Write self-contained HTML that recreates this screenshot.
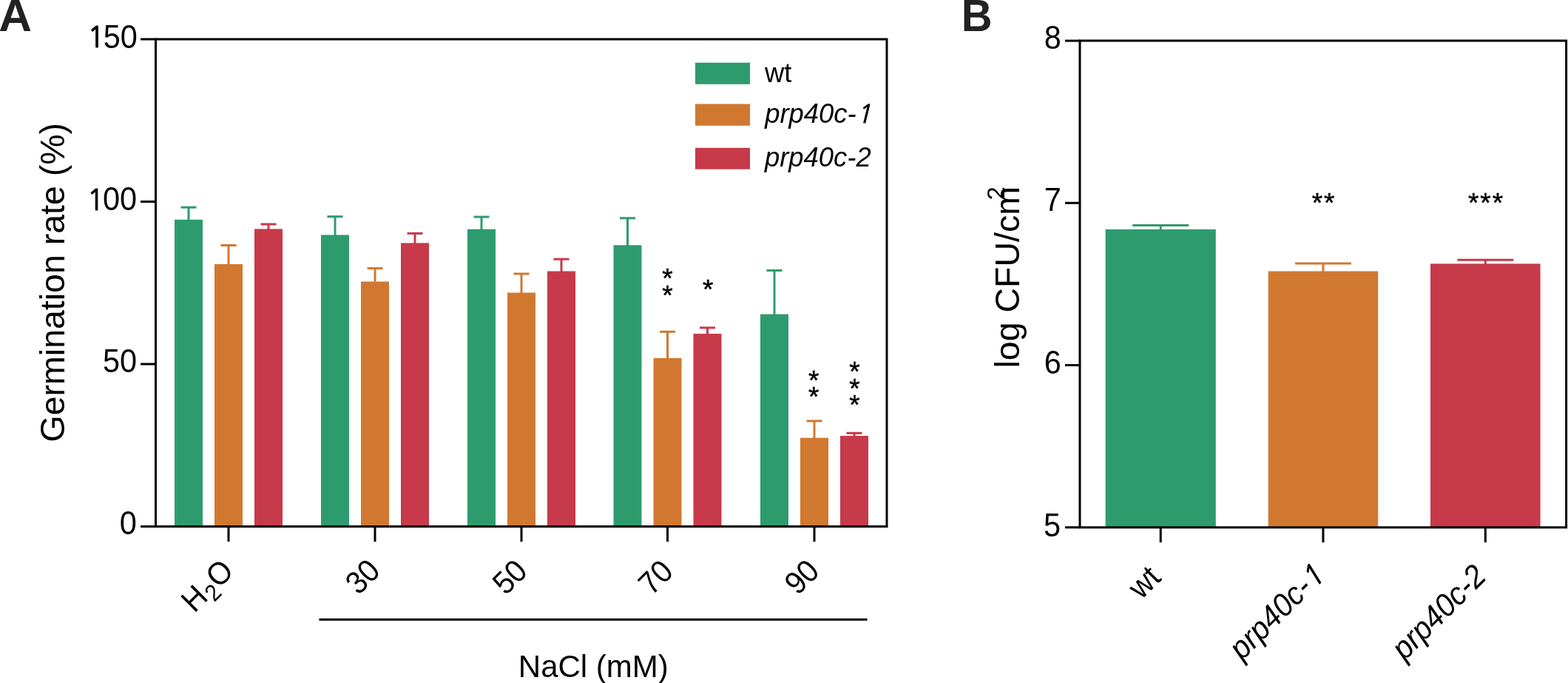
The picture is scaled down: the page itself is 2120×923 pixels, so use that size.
<!DOCTYPE html>
<html><head><meta charset="utf-8"><title>Figure</title>
<style>html,body{margin:0;padding:0;background:#fff;overflow:hidden;}svg{display:block;}</style></head>
<body><svg width="2120" height="923" viewBox="0 0 2120 923" font-family="'Liberation Sans', Arial, Helvetica, sans-serif">
<rect width="2120" height="923" fill="#fff"/>
<rect x="236" y="296.8" width="38.00" height="414.70" fill="#2E9B6E"/>
<line x1="255" y1="280.2" x2="255" y2="297.8" stroke="#2E9B6E" stroke-width="3"/>
<line x1="244.5" y1="280.2" x2="265.5" y2="280.2" stroke="#2E9B6E" stroke-width="3"/>
<rect x="290" y="356.9" width="38.00" height="354.60" fill="#D17830"/>
<line x1="309" y1="331.5" x2="309" y2="357.9" stroke="#D17830" stroke-width="3"/>
<line x1="298.5" y1="331.5" x2="319.5" y2="331.5" stroke="#D17830" stroke-width="3"/>
<rect x="344" y="309.4" width="38.00" height="402.10" fill="#C63A4A"/>
<line x1="363" y1="303.0" x2="363" y2="310.4" stroke="#C63A4A" stroke-width="3"/>
<line x1="352.5" y1="303.0" x2="373.5" y2="303.0" stroke="#C63A4A" stroke-width="3"/>
<rect x="434" y="317.5" width="38.00" height="394.00" fill="#2E9B6E"/>
<line x1="453" y1="292.7" x2="453" y2="318.5" stroke="#2E9B6E" stroke-width="3"/>
<line x1="442.5" y1="292.7" x2="463.5" y2="292.7" stroke="#2E9B6E" stroke-width="3"/>
<rect x="488" y="380.5" width="38.00" height="331.00" fill="#D17830"/>
<line x1="507" y1="362.6" x2="507" y2="381.5" stroke="#D17830" stroke-width="3"/>
<line x1="496.5" y1="362.6" x2="517.5" y2="362.6" stroke="#D17830" stroke-width="3"/>
<rect x="542" y="328.4" width="38.00" height="383.10" fill="#C63A4A"/>
<line x1="561" y1="315.4" x2="561" y2="329.4" stroke="#C63A4A" stroke-width="3"/>
<line x1="550.5" y1="315.4" x2="571.5" y2="315.4" stroke="#C63A4A" stroke-width="3"/>
<rect x="632" y="309.7" width="38.00" height="401.80" fill="#2E9B6E"/>
<line x1="651" y1="293.1" x2="651" y2="310.7" stroke="#2E9B6E" stroke-width="3"/>
<line x1="640.5" y1="293.1" x2="661.5" y2="293.1" stroke="#2E9B6E" stroke-width="3"/>
<rect x="686" y="395.5" width="38.00" height="316.00" fill="#D17830"/>
<line x1="705" y1="370.0" x2="705" y2="396.5" stroke="#D17830" stroke-width="3"/>
<line x1="694.5" y1="370.0" x2="715.5" y2="370.0" stroke="#D17830" stroke-width="3"/>
<rect x="740" y="366.5" width="38.00" height="345.00" fill="#C63A4A"/>
<line x1="759" y1="350.2" x2="759" y2="367.5" stroke="#C63A4A" stroke-width="3"/>
<line x1="748.5" y1="350.2" x2="769.5" y2="350.2" stroke="#C63A4A" stroke-width="3"/>
<rect x="829.5" y="331.3" width="38.00" height="380.20" fill="#2E9B6E"/>
<line x1="848.5" y1="294.8" x2="848.5" y2="332.3" stroke="#2E9B6E" stroke-width="3"/>
<line x1="838.0" y1="294.8" x2="859.0" y2="294.8" stroke="#2E9B6E" stroke-width="3"/>
<rect x="883.5" y="483.9" width="38.00" height="227.60" fill="#D17830"/>
<line x1="902.5" y1="448.3" x2="902.5" y2="484.9" stroke="#D17830" stroke-width="3"/>
<line x1="892.0" y1="448.3" x2="913.0" y2="448.3" stroke="#D17830" stroke-width="3"/>
<rect x="937.5" y="451.0" width="38.00" height="260.50" fill="#C63A4A"/>
<line x1="956.5" y1="442.9" x2="956.5" y2="452.0" stroke="#C63A4A" stroke-width="3"/>
<line x1="946.0" y1="442.9" x2="967.0" y2="442.9" stroke="#C63A4A" stroke-width="3"/>
<rect x="1028" y="424.6" width="38.00" height="286.90" fill="#2E9B6E"/>
<line x1="1047" y1="365.5" x2="1047" y2="425.6" stroke="#2E9B6E" stroke-width="3"/>
<line x1="1036.5" y1="365.5" x2="1057.5" y2="365.5" stroke="#2E9B6E" stroke-width="3"/>
<rect x="1082" y="591.7" width="38.00" height="119.80" fill="#D17830"/>
<line x1="1101" y1="568.9" x2="1101" y2="592.7" stroke="#D17830" stroke-width="3"/>
<line x1="1090.5" y1="568.9" x2="1111.5" y2="568.9" stroke="#D17830" stroke-width="3"/>
<rect x="1136" y="589.0" width="38.00" height="122.50" fill="#C63A4A"/>
<line x1="1155" y1="585.3" x2="1155" y2="590.0" stroke="#C63A4A" stroke-width="3"/>
<line x1="1144.5" y1="585.3" x2="1165.5" y2="585.3" stroke="#C63A4A" stroke-width="3"/>
<path d="M210.5,711.5 V53 H1199 V711.5 H210.5 Z" fill="none" stroke="#000" stroke-width="3"/>
<line x1="190" y1="53.0" x2="210.5" y2="53.0" stroke="#000" stroke-width="3"/>
<text id="ya0" transform="translate(185.80,64.65) scale(1.0,1.07)" font-size="41.5" text-anchor="end"><tspan font-family="NanumGothic, Liberation Sans, sans-serif" font-size="37.5" stroke="#000" stroke-width="1.1" dy="-0.5">1</tspan><tspan dx="-1.6" dy="0.5">50</tspan></text>
<line x1="190" y1="272.5" x2="210.5" y2="272.5" stroke="#000" stroke-width="3"/>
<text id="ya1" transform="translate(185.20,284.15) scale(1.0,1.07)" font-size="41.5" text-anchor="end"><tspan font-family="NanumGothic, Liberation Sans, sans-serif" font-size="37.5" stroke="#000" stroke-width="1.1" dy="-0.5">1</tspan><tspan dx="-1.6" dy="0.5">00</tspan></text>
<line x1="190" y1="492.0" x2="210.5" y2="492.0" stroke="#000" stroke-width="3"/>
<text id="ya2" transform="translate(185.20,503.40) scale(1.0,1.07)" font-size="41.5" text-anchor="end">50</text>
<line x1="190" y1="711.5" x2="210.5" y2="711.5" stroke="#000" stroke-width="3"/>
<text id="ya3" transform="translate(184.90,722.40) scale(1.0,1.07)" font-size="41.5" text-anchor="end">0</text>
<line x1="309" y1="711.5" x2="309" y2="732" stroke="#000" stroke-width="3"/>
<line x1="507" y1="711.5" x2="507" y2="732" stroke="#000" stroke-width="3"/>
<line x1="705" y1="711.5" x2="705" y2="732" stroke="#000" stroke-width="3"/>
<line x1="902.5" y1="711.5" x2="902.5" y2="732" stroke="#000" stroke-width="3"/>
<line x1="1101" y1="711.5" x2="1101" y2="732" stroke="#000" stroke-width="3"/>
<text id="xa0" transform="translate(317.95,774.00) rotate(-45) scale(1.0,1.07)" font-size="40" text-anchor="end">H<tspan font-size="29.5" dx="1" dy="8">2</tspan><tspan dx="0.8" dy="-8">O</tspan></text>
<text id="xa1" transform="translate(516.20,773.85) rotate(-45) scale(1.0,1.07)" font-size="40" text-anchor="end">30</text>
<text id="xa2" transform="translate(715.15,774.15) rotate(-45) scale(1.0,1.07)" font-size="40" text-anchor="end">50</text>
<text id="xa3" transform="translate(912.55,774.65) rotate(-45) scale(1.0,1.07)" font-size="40" text-anchor="end">70</text>
<text id="xa4" transform="translate(1109.95,774.15) rotate(-45) scale(1.0,1.07)" font-size="40" text-anchor="end">90</text>
<line x1="431.5" y1="837.2" x2="1172.5" y2="837.2" stroke="#000" stroke-width="3"/>
<text id="nacl" transform="translate(700.80,914.60)" font-size="42" text-anchor="start">NaCl (mM)</text>
<text id="gtitle" transform="translate(86.95,597.45) rotate(-90)" font-size="46.5" text-anchor="start">Germination rate (%)</text>
<rect x="940" y="84.7" width="74.00" height="29.10" fill="#2E9B6E"/>
<text id="lg0" transform="translate(1033.90,111.00) scale(1.0,1.03)" font-size="36.4" text-anchor="start">wt</text>
<rect x="940" y="140.5" width="74.00" height="29.30" fill="#D17830"/>
<text id="lg1" transform="translate(1034.25,166.45) scale(1.0,1.03)" font-size="36.4" text-anchor="start"><tspan font-style="italic">prp40c-<tspan font-family="NanumGothic, Liberation Sans, sans-serif" font-size="33" stroke="#000" stroke-width="0.9">1</tspan></tspan></text>
<rect x="940" y="199.8" width="74.00" height="28.90" fill="#C63A4A"/>
<text id="lg2" transform="translate(1034.00,225.40) scale(1.0,1.03)" font-size="36.4" text-anchor="start"><tspan font-style="italic">prp40c-2</tspan></text>
<rect x="1494.7" y="309.9" width="149.10" height="402.80" fill="#2E9B6E"/>
<line x1="1569.25" y1="304.6" x2="1569.25" y2="310.9" stroke="#2E9B6E" stroke-width="3"/>
<line x1="1531.25" y1="304.6" x2="1607.25" y2="304.6" stroke="#2E9B6E" stroke-width="3"/>
<rect x="1714.7" y="366.5" width="148.50" height="346.20" fill="#D17830"/>
<line x1="1788.95" y1="356.0" x2="1788.95" y2="367.5" stroke="#D17830" stroke-width="3"/>
<line x1="1750.95" y1="356.0" x2="1826.95" y2="356.0" stroke="#D17830" stroke-width="3"/>
<rect x="1934" y="356.4" width="148.60" height="356.30" fill="#C63A4A"/>
<line x1="2008.3" y1="351.3" x2="2008.3" y2="357.4" stroke="#C63A4A" stroke-width="3"/>
<line x1="1970.3" y1="351.3" x2="2046.3" y2="351.3" stroke="#C63A4A" stroke-width="3"/>
<path d="M1460,712.7 V55.1 H2117.6 V712.7 H1460 Z" fill="none" stroke="#000" stroke-width="3"/>
<line x1="1440" y1="55.1" x2="1460" y2="55.1" stroke="#000" stroke-width="3"/>
<text id="yb0" transform="translate(1434.90,66.25) scale(1.0,1.07)" font-size="41.5" text-anchor="end">8</text>
<line x1="1440" y1="274.3" x2="1460" y2="274.3" stroke="#000" stroke-width="3"/>
<text id="yb1" transform="translate(1434.90,285.45) scale(1.0,1.07)" font-size="41.5" text-anchor="end">7</text>
<line x1="1440" y1="493.50000000000006" x2="1460" y2="493.50000000000006" stroke="#000" stroke-width="3"/>
<text id="yb2" transform="translate(1434.90,504.70) scale(1.0,1.07)" font-size="41.5" text-anchor="end">6</text>
<line x1="1440" y1="712.7" x2="1460" y2="712.7" stroke="#000" stroke-width="3"/>
<text id="yb3" transform="translate(1434.00,724.70) scale(1.0,1.07)" font-size="41.5" text-anchor="end">5</text>
<line x1="1569.25" y1="712.7" x2="1569.25" y2="733" stroke="#000" stroke-width="3"/>
<text id="xb0" transform="translate(1571.60,782.70) rotate(-45) scale(1.0,1.07)" font-size="40.4" text-anchor="end">wt</text>
<line x1="1788.95" y1="712.7" x2="1788.95" y2="733" stroke="#000" stroke-width="3"/>
<text id="xb1" transform="translate(1791.80,781.05) rotate(-45) scale(1.0,1.07)" font-size="40.4" text-anchor="end"><tspan font-style="italic">prp40c-<tspan font-family="NanumGothic, Liberation Sans, sans-serif" font-size="36.5" stroke="#000" stroke-width="1">1</tspan></tspan></text>
<line x1="2008.3" y1="712.7" x2="2008.3" y2="733" stroke="#000" stroke-width="3"/>
<text id="xb2" transform="translate(2011.70,781.00) rotate(-45) scale(1.0,1.07)" font-size="40.4" text-anchor="end"><tspan font-style="italic">prp40c-2</tspan></text>
<text id="ltitle" transform="translate(1378.40,497.55) rotate(-90)" font-size="46.5" text-anchor="start">log CFU/cm<tspan font-size="33" dx="-18.5" dy="-20.5">2</tspan></text>
<text id="sb1" transform="translate(1790.10,286.60)" font-size="37" text-anchor="middle" letter-spacing="2" stroke="#000" stroke-width="0.5">**</text>
<text id="sb2" transform="translate(2009.50,286.60)" font-size="37" text-anchor="middle" letter-spacing="2" stroke="#000" stroke-width="0.5">***</text>
<text id="s70o0" transform="translate(902.55,388.90)" font-size="37" text-anchor="middle" stroke="#000" stroke-width="0.5">*</text>
<text id="s70o1" transform="translate(902.55,412.10)" font-size="37" text-anchor="middle" stroke="#000" stroke-width="0.5">*</text>
<text id="s70r0" transform="translate(957.30,403.75)" font-size="37" text-anchor="middle" stroke="#000" stroke-width="0.5">*</text>
<text id="s90o0" transform="translate(1100.15,526.60)" font-size="37" text-anchor="middle" stroke="#000" stroke-width="0.5">*</text>
<text id="s90o1" transform="translate(1100.15,548.85)" font-size="37" text-anchor="middle" stroke="#000" stroke-width="0.5">*</text>
<text id="s90r0" transform="translate(1155.40,515.40)" font-size="37" text-anchor="middle" stroke="#000" stroke-width="0.5">*</text>
<text id="s90r1" transform="translate(1155.40,538.40)" font-size="37" text-anchor="middle" stroke="#000" stroke-width="0.5">*</text>
<text id="s90r2" transform="translate(1155.40,560.40)" font-size="37" text-anchor="middle" stroke="#000" stroke-width="0.5">*</text>
<text id="pa" transform="translate(-1.65,41.75) scale(1.07,1.06)" font-size="58" text-anchor="start" font-weight="bold" fill="#222">A</text>
<text id="pb" transform="translate(1299.70,41.75) scale(1.0,1.05)" font-size="58" text-anchor="start" font-weight="bold" fill="#222">B</text>
</svg></body></html>
